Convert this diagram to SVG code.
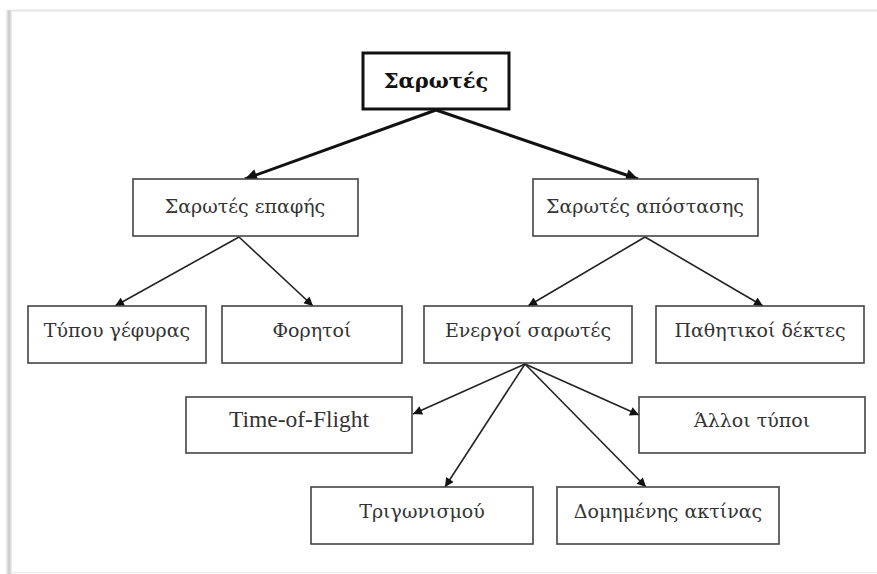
<svg xmlns="http://www.w3.org/2000/svg" width="877" height="574" viewBox="0 0 877 574">
  <defs>
    <marker id="arrow" viewBox="0 0 10 10" refX="10" refY="5" markerWidth="10" markerHeight="9" markerUnits="userSpaceOnUse" orient="auto">
      <path d="M0,0 L10,5 L0,10 z" fill="#111"/>
    </marker>
    <marker id="arrowBig" viewBox="0 0 10 10" refX="10" refY="5" markerWidth="13" markerHeight="12" markerUnits="userSpaceOnUse" orient="auto">
      <path d="M0,0 L10,5 L0,10 z" fill="#111"/>
    </marker>
    <linearGradient id="edgeShade" x1="0" y1="0" x2="1" y2="0">
      <stop offset="0" stop-color="#f4f4f4"/>
      <stop offset="0.5" stop-color="#c8c8c8"/>
      <stop offset="1" stop-color="#f0f0f0"/>
    </linearGradient>
  </defs>
  <style>
    .box { fill: #fff; stroke: #444; stroke-width: 1.6; }
    .root { fill: #fff; stroke: #111; stroke-width: 3; }
    .label { font-family: "DejaVu Serif", "Liberation Serif", serif; font-size: 19px; fill: #333; text-anchor: middle; }
    .latin { font-family: "Liberation Serif", "Times New Roman", serif; font-size: 23.5px; }
    .title { font-family: "DejaVu Serif", "Liberation Serif", serif; font-size: 21px; font-weight: bold; fill: #111; text-anchor: middle; }
    .thin { stroke: #222; stroke-width: 1.6; fill: none; marker-end: url(#arrow); }
    .thick { stroke: #111; stroke-width: 3; fill: none; marker-end: url(#arrowBig); }
  </style>

  <!-- page background and frame edges -->
  <rect x="0" y="0" width="877" height="574" fill="#fff"/>
  <line x1="9" y1="10.5" x2="877" y2="10.5" stroke="#e6e6e6" stroke-width="2"/>
  <rect x="6" y="10" width="6" height="564" fill="url(#edgeShade)"/>
  <line x1="12" y1="572.5" x2="877" y2="572.5" stroke="#ececec" stroke-width="1.5"/>

  <!-- connectors -->
  <g id="connectors">
    <line class="thick" x1="436" y1="110" x2="245" y2="179"/>
    <line class="thick" x1="436" y1="110" x2="638" y2="179"/>
    <line class="thin" x1="239" y1="237" x2="115" y2="306"/>
    <line class="thin" x1="239" y1="237" x2="313" y2="306"/>
    <line class="thin" x1="645" y1="237" x2="528" y2="306"/>
    <line class="thin" x1="645" y1="237" x2="763" y2="306"/>
    <line class="thin" x1="525" y1="364" x2="413" y2="414"/>
    <line class="thin" x1="525" y1="364" x2="639" y2="415"/>
    <line class="thin" x1="525" y1="364" x2="445" y2="487"/>
    <line class="thin" x1="525" y1="364" x2="646" y2="487"/>
  </g>

  <!-- nodes -->
  <g id="node-scanners">
    <rect class="root" x="363" y="53" width="146" height="56"/>
    <text class="title" x="436" y="88">Σαρωτές</text>
  </g>
  <g id="node-contact">
    <rect class="box" x="133" y="179" width="225" height="57"/>
    <text class="label" x="245" y="213">Σαρωτές επαφής</text>
  </g>
  <g id="node-distance">
    <rect class="box" x="533" y="179" width="225" height="57"/>
    <text class="label" x="645" y="213">Σαρωτές απόστασης</text>
  </g>
  <g id="node-bridge">
    <rect class="box" x="28" y="306" width="178" height="57"/>
    <text class="label" x="117" y="337">Τύπου γέφυρας</text>
  </g>
  <g id="node-portable">
    <rect class="box" x="222" y="306" width="180" height="57"/>
    <text class="label" x="312" y="337">Φορητοί</text>
  </g>
  <g id="node-active">
    <rect class="box" x="424" y="306" width="208" height="57"/>
    <text class="label" x="528" y="337">Ενεργοί σαρωτές</text>
  </g>
  <g id="node-passive">
    <rect class="box" x="656" y="306" width="208" height="57"/>
    <text class="label" x="760" y="337">Παθητικοί δέκτες</text>
  </g>
  <g id="node-tof">
    <rect class="box" x="186" y="397" width="226" height="56"/>
    <text class="label latin" x="299" y="427">Time-of-Flight</text>
  </g>
  <g id="node-other">
    <rect class="box" x="639" y="397" width="226" height="56"/>
    <text class="label" x="752" y="427">Άλλοι τύποι</text>
  </g>
  <g id="node-triangulation">
    <rect class="box" x="311" y="487" width="222" height="57"/>
    <text class="label" x="422" y="518">Τριγωνισμού</text>
  </g>
  <g id="node-structured">
    <rect class="box" x="557" y="487" width="222" height="57"/>
    <text class="label" x="668" y="518">Δομημένης ακτίνας</text>
  </g>
</svg>
